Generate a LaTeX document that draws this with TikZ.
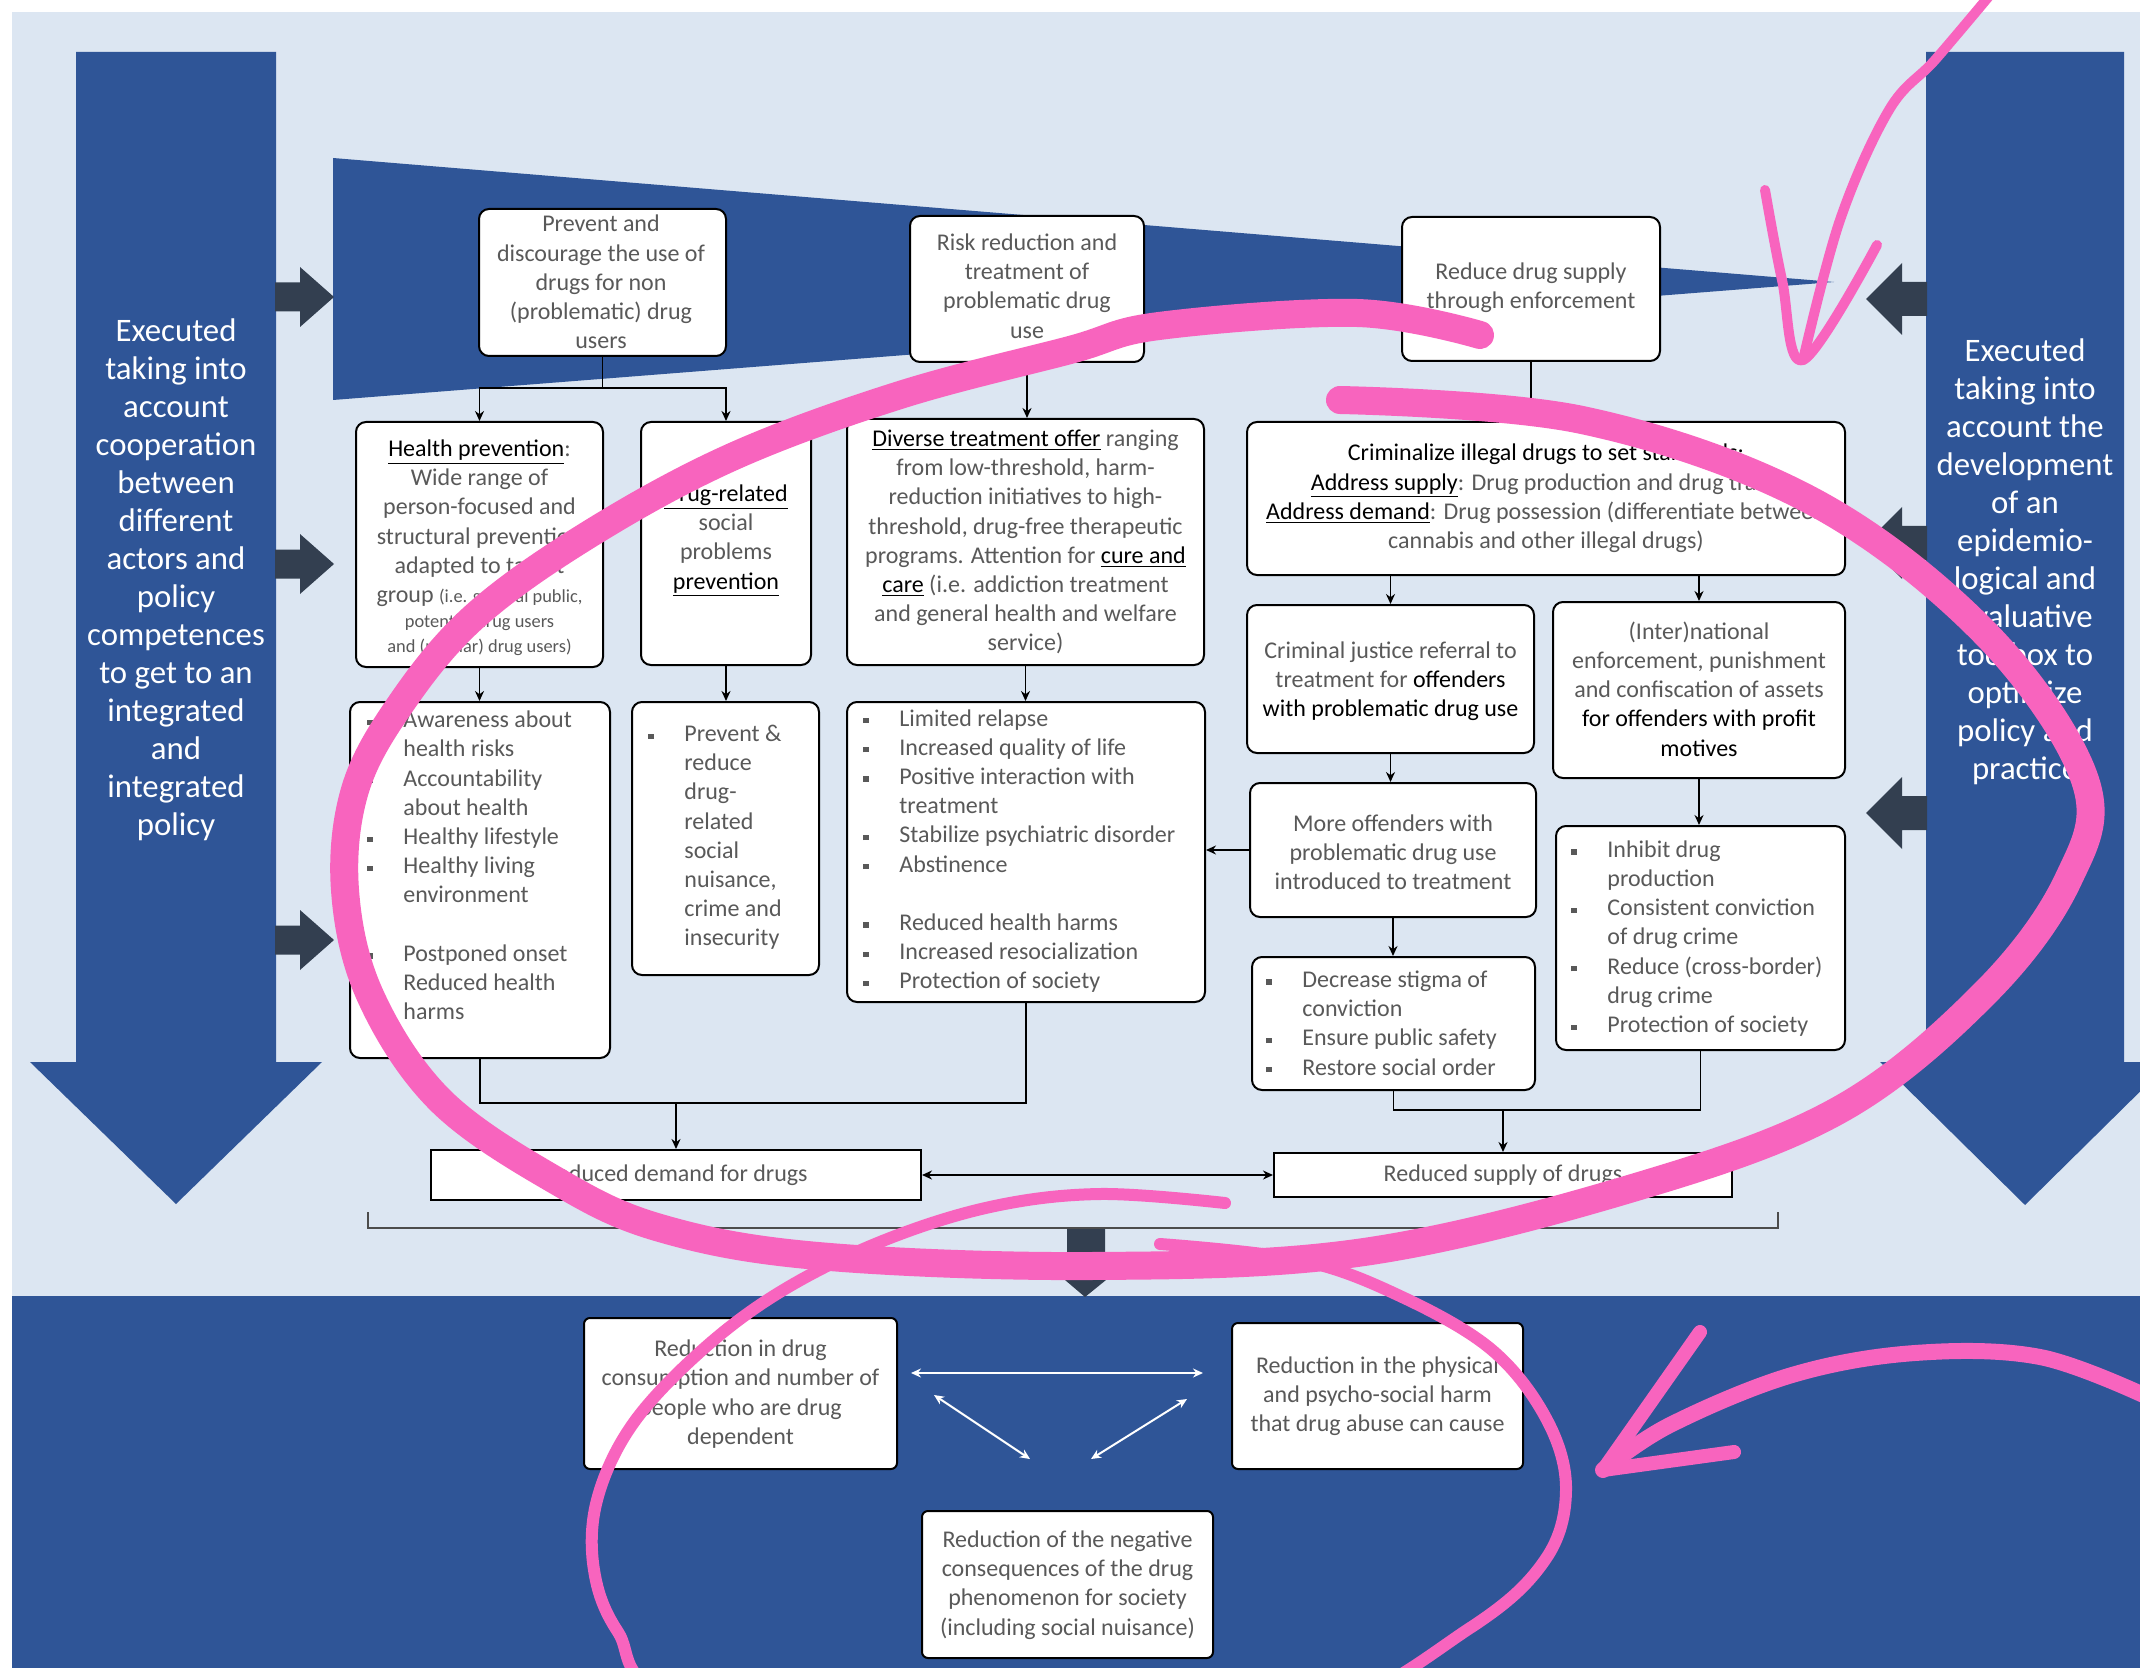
\documentclass[tikz,border=0pt]{standalone}
\usepackage{fontspec}
\setmainfont{Carlito}
\usetikzlibrary{arrows.meta}
\definecolor{lbg}{RGB}{220,230,242}
\definecolor{dblue}{RGB}{47,85,151}
\definecolor{darr}{RGB}{51,63,80}
\definecolor{pinkm}{RGB}{248,100,190}
\definecolor{tgray}{RGB}{89,89,89}
\newcommand\fnt{\fontsize{12}{14.6}\selectfont}
\newcommand\fsm{\fontsize{9.2}{12.5}\selectfont}
\newcommand\fbig{\fontsize{16.4}{19}\selectfont}
\newcommand\blk[1]{\textcolor{black}{#1}}
\newcommand\bulx{\makebox[18pt][l]{\rule[1.4pt]{2.6pt}{2.6pt}}}
\newcommand\indx{\makebox[18pt]{}}
\newcommand\mkbox[6][box]{\node[#1, minimum width={(#5-#3)*0.5pt}, minimum height={(#6-#4)*0.5pt}] (#2) at ({(#3+#5)/2},{(#4+#6)/2}) {};}
\begin{document}
\begin{tikzpicture}[x=0.5pt,y=-0.5pt,
  box/.style={draw=black, line width=1pt, fill=white, rounded corners=5pt, inner sep=0pt},
  sbox/.style={box, rounded corners=0pt},
  rbox/.style={box, rounded corners=3pt},
  txt/.style={font=\fnt, text=tgray, align=center, inner sep=0pt},
  btxt/.style={font=\fnt, text=tgray, align=left, inner sep=0pt, anchor=west},
  bigtxt/.style={font=\fbig, text=white, align=center, inner sep=0pt},
  con/.style={draw=black, line width=0.9pt},
  arr/.style={con, -{Stealth[length=5pt,width=4.5pt]}},
  darr2/.style={con, {Stealth[length=5pt,width=4.5pt]}-{Stealth[length=5pt,width=4.5pt]}},
  warr/.style={draw=white, line width=1pt, {Stealth[length=5pt,width=4.5pt]}-{Stealth[length=5pt,width=4.5pt]}},
  pk/.style={draw=pinkm, line cap=round, line join=round}
]
\useasboundingbox (0,0) rectangle (2140,1668);
% backgrounds
\fill[white] (0,0) rectangle (2140,1668);
\fill[lbg] (12,12) rectangle (2140,1296);
\fill[dblue] (12,1296) rectangle (2140,1668);
% wedge
\fill[dblue] (333,158) -- (1834,282) -- (333,400) -- cycle;
% big side arrows
\fill[dblue] (76,52) -- (276,52) -- (276,1062) -- (322,1062) -- (176,1204) -- (30,1062) -- (76,1062) -- cycle;
\fill[dblue] (1926,52) -- (2124,52) -- (2124,1062) -- (2170,1062) -- (2025,1205) -- (1880,1062) -- (1926,1062) -- cycle;
% small arrows
\foreach \yy in {297,564,940}{
  \fill[darr] (275,\yy-14.5) -- (300,\yy-14.5) -- (300,\yy-30) -- (334,\yy) -- (300,\yy+30) -- (300,\yy+14.5) -- (275,\yy+14.5) -- cycle;}
\foreach \yy in {299,543,813}{
  \fill[darr] (1927,\yy-17) -- (1902,\yy-17) -- (1902,\yy-36) -- (1866,\yy) -- (1902,\yy+36) -- (1902,\yy+17) -- (1927,\yy+17) -- cycle;}
% side texts
\node[bigtxt] (LT) at (176,580) {Executed\\taking into\\account\\cooperation\\between\\different\\actors and\\policy\\competences\\to get to an\\integrated\\and\\integrated\\policy};
\node[bigtxt] (RT) at (2025,562) {Executed\\taking into\\account the\\development\\of an\\epidemio-\\logical and\\evaluative\\toolbox to\\optimize\\policy and\\practice};
% boxes
\mkbox{A}{479}{209}{726}{356}
\mkbox{B}{910}{216}{1144}{362}
\mkbox{C}{1402}{217}{1660}{361}
\mkbox{D}{356}{422}{603}{667}
\mkbox{E}{641}{422}{811}{665}
\mkbox{F}{847}{419}{1204}{665}
\mkbox{G}{1247}{422}{1845}{575}
\mkbox{H}{1247}{605}{1534}{753}
\mkbox{I}{1553}{602}{1845}{778}
\mkbox{J}{1250}{783}{1536}{917}
\mkbox{K}{1252}{957}{1535}{1090}
\mkbox{L}{1556}{826}{1845}{1050}
\mkbox{M}{350}{702}{610}{1058}
\mkbox{O}{632}{702}{819}{975}
\mkbox{N}{847}{702}{1205}{1002}
\mkbox[sbox]{Dem}{431}{1150}{921}{1200}
\mkbox[sbox]{Sup}{1274}{1153}{1732}{1197}
\mkbox[rbox]{P}{584}{1318}{897}{1469}
\mkbox[rbox]{Q}{1232}{1323}{1523}{1469}
\mkbox[rbox]{R}{922}{1511}{1213}{1658}
% box texts
\node[txt] (At) at (601,282) {Prevent and\\discourage the use of\\drugs for non\\(problematic) drug\\users};
\node[txt] (Bt) at (1027,286) {Risk reduction and\\treatment of\\problematic drug\\use};
\node[txt] (Ct) at (1531,288) {Reduce drug supply\\through enforcement};
\node[txt] (Dt) at (479.5,548) {\blk{\underline{Health prevention}}:\\Wide range of\\person-focused and\\structural prevention\\adapted to target\\group {\fsm (i.e. general public,}\\[-2pt]{\fsm potential drug users}\\[-2pt]{\fsm and (regular) drug users)}};
\node[txt] (Et) at (726,541) {\blk{\underline{Drug-related}}\\social\\problems\\\blk{\underline{prevention}}};
\node[txt] (Ft) at (1025.5,542) {\blk{\underline{Diverse treatment offer}} ranging\\from low-threshold, harm-\\reduction initiatives to high-\\threshold, drug-free therapeutic\\programs. Attention for \blk{\underline{cure and}}\\\blk{\underline{care}} (i.e. addiction treatment\\and general health and welfare\\service)};
\node[txt] (Gt) at (1546,498.5) {\blk{Criminalize illegal drugs to set standards:}\\\blk{\underline{Address supply}}: Drug production and drug trade\\\blk{\underline{Address demand}}: Drug possession (differentiate between\\cannabis and other illegal drugs)};
\node[txt] (Ht) at (1390.5,681) {Criminal justice referral to\\treatment for \blk{offenders}\\\blk{with problematic drug use}};
\node[txt] (It) at (1699,689) {(Inter)national\\enforcement, punishment\\and confiscation of assets\\\blk{for offenders with profit}\\\blk{motives}};
\node[txt] (Jt) at (1393,852) {More offenders with\\problematic drug use\\introduced to treatment};
\node[btxt] (Kt) at (1266,1023) {\bulx Decrease stigma of\\\indx conviction\\\bulx Ensure public safety\\\bulx Restore social order};
\node[btxt] (Lt) at (1571,938.5) {\bulx Inhibit drug\\\indx production\\\bulx Consistent conviction\\\indx of drug crime\\\bulx Reduce (cross-border)\\\indx drug crime\\\bulx Protection of society};
\node[btxt] (Mt) at (367,865.5) {\bulx Awareness about\\\indx health risks\\\bulx Accountability\\\indx about health\\\bulx Healthy lifestyle\\\bulx Healthy living\\\indx environment\\[14.6pt]\bulx Postponed onset\\\bulx Reduced health\\\indx harms};
\node[btxt] (Ot) at (648,837.5) {\bulx Prevent \&\\\indx reduce\\\indx drug-\\\indx related\\\indx social\\\indx nuisance,\\\indx crime and\\\indx insecurity};
\node[btxt] (Nt) at (863,851) {\bulx Limited relapse\\\bulx Increased quality of life\\\bulx Positive interaction with\\\indx treatment\\\bulx Stabilize psychiatric disorder\\\bulx Abstinence\\[14.6pt]\bulx Reduced health harms\\\bulx Increased resocialization\\\bulx Protection of society};
\node[txt] (Demt) at (676,1175) {Reduced demand for drugs};
\node[txt] (Supt) at (1503,1175) {Reduced supply of drugs};
\node[txt] (Pt) at (740.5,1394) {Reduction in drug\\consumption and number of\\people who are drug\\dependent};
\node[txt] (Qt) at (1377.5,1396) {Reduction in the physical\\and psycho-social harm\\that drug abuse can cause};
\node[txt] (Rt) at (1067.5,1585) {Reduction of the negative\\consequences of the drug\\phenomenon for society\\(including social nuisance)};
% connectors
\coordinate (a1) at (602.5,388);
\draw[con] (A.south) -- (a1);
\draw[arr] (a1) -| (D.north);
\draw[arr] (a1) -| (E.north);
\draw[arr] (B.south) -- (B.south |- F.north);
\draw[arr] (C.south) -- (C.south |- G.north);
\draw[arr] (G.south -| H.north) -- (H.north);
\draw[arr] (G.south -| I.north) -- (I.north);
\draw[arr] (H.south) -- (H.south |- J.north);
\draw[arr] (J.south) -- (J.south |- K.north);
\draw[arr] (I.south) -- (I.south |- L.north);
\draw[arr] (J.west) -- (J.west -| N.east);
\draw[arr] (D.south) -- (D.south |- M.north);
\draw[arr] (E.south) -- (E.south |- O.north);
\draw[arr] (F.south) -- (F.south |- N.north);
\coordinate (kl) at (1503,1110);
\draw[con] (K.south) |- (kl) -| (L.south);
\draw[arr] (kl) -- (Sup.north);
\coordinate (mn) at (676,1103);
\draw[con] (M.south) |- (mn) -| (N.south);
\draw[arr] (mn) -- (Dem.north);
\draw[darr2] (Dem.east) -- (Sup.west);
% bracket and central arrow
\draw[draw=black!70, line width=0.8pt] (368,1212) -- (368,1228) -- (1778,1228) -- (1778,1212);
\fill[darr] (1067,1229) -- (1105,1229) -- (1105,1280) -- (1106,1280) -- (1085,1297) -- (1065,1280) -- (1067,1280) -- cycle;
% white arrows
\coordinate (wa) at (911,1373); \coordinate (wb) at (1203,1373);
\coordinate (wc) at (934,1395); \coordinate (wd) at (1030,1459);
\coordinate (we) at (1187,1399); \coordinate (wf) at (1091,1459);
\draw[warr] (wa) -- (wb);
\draw[warr] (wc) -- (wd);
\draw[warr] (we) -- (wf);
% pink marker strokes
\draw[pk, line width=6pt] plot[smooth, tension=0.6] coordinates {(1225,1203) (1100,1194) (990,1207) (880,1242) (780,1292) (700,1352) (632,1425) (597,1500) (594,1570) (618,1632) (680,1700) (1000,1760) (1300,1720) (1470,1628) (1545,1560) (1566,1490) (1547,1420) (1492,1350) (1400,1296) (1300,1260) (1160,1244)};
\draw[pk, line width=14pt] plot[smooth, tension=0.6] coordinates {(1340,400) (1582,420) (1810,500) (1985,633) (2085,780) (2068,880) (1985,993) (1839,1110) (1636,1187) (1364,1252) (1091,1266) (818,1256) (660,1228) (555,1180) (440,1100) (370,995) (345,890) (355,790) (400,705) (474,617) (588,535) (732,457) (900,395) (1070,350) (1159,326) (1357,313) (1480,335)};
\draw[pk, line width=8pt] plot[smooth, tension=0.6] coordinates {(2150,1398) (2040,1357) (1915,1353) (1792,1375) (1670,1425) (1603,1470)};
\draw[pk, line width=7pt] (1700,1332) -- (1603,1470) -- (1734,1452);
\draw[pk, line width=5pt] plot[smooth, tension=0.6] coordinates {(1990,-5) (1935,60) (1889,110) (1840,220) (1803,360)};
\draw[pk, line width=5pt] plot[smooth, tension=0.6] coordinates {(1765,190) (1782,280) (1803,360) (1877,245)};
\end{tikzpicture}
\end{document}
